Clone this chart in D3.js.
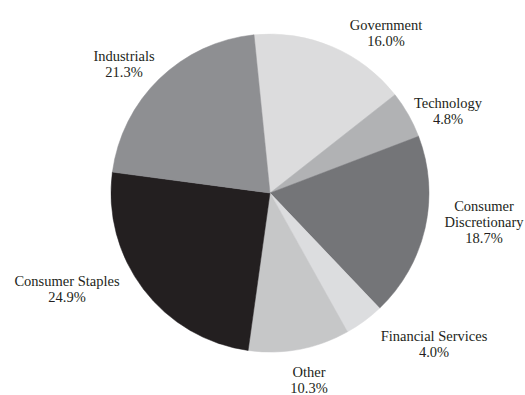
<!DOCTYPE html>
<html>
<head>
<meta charset="utf-8">
<script src="https://cdn.jsdelivr.net/npm/d3@7/dist/d3.min.js"></script>
<style>
  html, body { margin: 0; padding: 0; background: #ffffff; }
  svg { display: block; }
  text { font-family: "Liberation Serif", "Times New Roman", serif; font-size: 14.5px; fill: #231f20; }
</style>
</head>
<body>
<svg id="chart" width="525" height="395"></svg>
<script>
// Sector allocation, clockwise from the top
const sectors = ["Government", "Technology", "Consumer Discretionary", "Financial Services", "Other", "Consumer Staples", "Industrials"];
const shares = [16.0, 4.8, 18.7, 4.0, 10.3, 24.9, 21.3];
const shades = ["#dcdcdd", "#b1b2b4", "#747578", "#dcdddf", "#c6c7c8", "#231f20", "#8e8f92"];
// Label lines for each sector (name split where it wraps)
const labelLines = [["Government"], ["Technology"], ["Consumer", "Discretionary"], ["Financial Services"], ["Other"], ["Consumer Staples"], ["Industrials"]];
// Where each label block sits (centre x, first baseline y)
const labelAnchors = [[386, 30], [448, 108], [484, 210.5], [434, 341], [309, 377], [67, 286], [124, 61]];

const width = 525, height = 395;
const cx = 270, cy = 193, radius = 159;
const startAngle = -5.77 * Math.PI / 180;

const svg = d3.select("#chart");
const g = svg.append("g").attr("transform", `translate(${cx},${cy})`);

const pie = d3.pie()
  .value(d => d.value)
  .sort(null)
  .startAngle(startAngle)
  .endAngle(startAngle + 2 * Math.PI);

const arc = d3.arc().innerRadius(0).outerRadius(radius);

const data = sectors.map((name, i) => ({ name, value: shares[i], color: shades[i] }));

g.selectAll("path.slice")
  .data(pie(data))
  .join("path")
  .attr("class", "slice")
  .attr("d", arc)
  .attr("fill", d => d.data.color)
  .attr("stroke", d => d.data.color)
  .attr("stroke-width", 0.5);

const lineH = 16.3;
const labels = svg.selectAll("text.label")
  .data(data)
  .join("text")
  .attr("class", "label")
  .attr("text-anchor", "middle")
  .attr("transform", (d, i) => `translate(${labelAnchors[i][0]},${labelAnchors[i][1]})`);

labels.each(function (d, i) {
  const t = d3.select(this);
  const lines = labelLines[i].concat([d3.format(".1f")(d.value) + "%"]);
  lines.forEach((ln, k) => {
    t.append("tspan").attr("x", 0).attr("y", k * lineH).text(ln);
  });
});
</script>
</body>
</html>
